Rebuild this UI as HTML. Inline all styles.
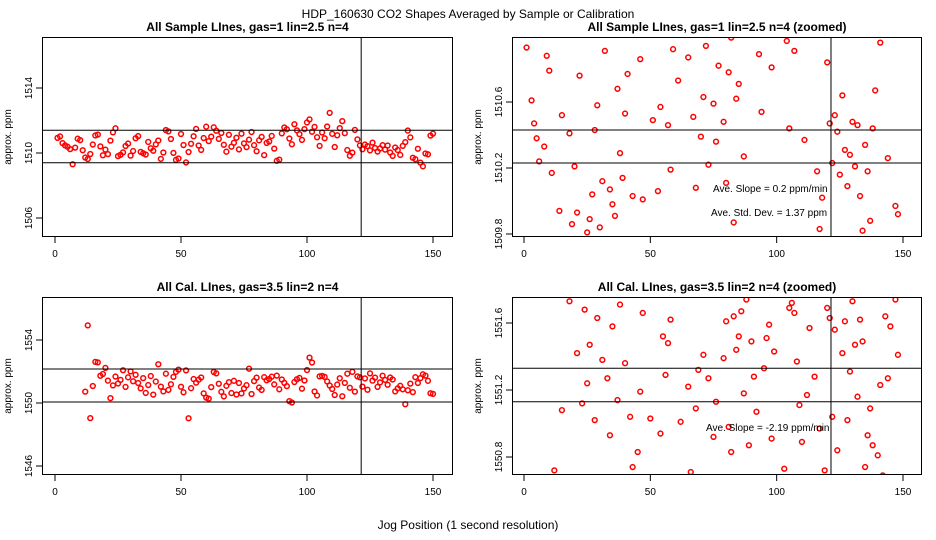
<!DOCTYPE html>
<html><head><meta charset="utf-8"><style>
html,body{margin:0;padding:0;background:#fff;width:936px;height:540px;overflow:hidden}
svg{display:block;font-family:"Liberation Sans",sans-serif}
</style></head><body>
<svg id="c" width="936" height="540" viewBox="0 0 936 540">
<text x="468" y="18" text-anchor="middle" font-size="12">HDP_160630  CO2 Shapes Averaged by Sample or Calibration</text>
<text x="468" y="529" text-anchor="middle" font-size="12">Jog Position (1 second resolution)</text>
</svg>
<script>
const sampleValues=[1510.93,1511.02,1510.61,1510.47,1510.38,1510.24,1509.31,1510.33,1510.88,1510.79,
1510.17,1509.72,1509.63,1509.94,1510.52,1511.08,1511.13,1510.41,1509.86,1510.21,
1509.93,1510.76,1511.27,1511.52,1509.81,1509.89,1510.04,1510.43,1510.58,1509.84,
1510.12,1510.91,1511.04,1510.07,1509.98,1509.91,1510.68,1510.29,1510.14,1510.53,
1510.77,1509.64,1510.03,1511.41,1511.33,1510.86,1510.01,1509.58,1509.66,1511.17,
1510.49,1509.42,1510.06,1510.57,1511.03,1511.48,1510.46,1510.19,1510.92,1511.62,
1510.73,1511.01,1511.58,1511.37,1510.87,1511.23,1510.51,1510.08,1511.12,1510.39,
1510.63,1510.94,1510.22,1511.19,1510.59,1510.36,1510.82,1511.29,1510.48,1510.11,
1510.78,1510.99,1509.87,1510.62,1510.71,1511.05,1510.27,1509.52,1509.59,1511.21,
1511.57,1511.46,1510.89,1510.54,1511.77,1511.39,1511.16,1510.81,1511.47,1511.88,
1512.07,1511.31,1511.61,1510.97,1510.44,1511.26,1510.91,1511.63,1512.47,1511.18,
1510.37,1511.09,1511.53,1511.96,1511.22,1510.18,1509.83,1510.02,1511.42,1510.84,
1510.47,1510.23,1510.52,1510.42,1510.16,1510.64,1510.31,1510.09,1510.28,1510.48,
1510.21,1510.46,1510.03,1509.82,1510.34,1510.18,1509.88,1510.44,1510.67,1511.38,
1510.96,1509.71,1509.62,1510.26,1509.41,1509.18,1509.97,1509.92,1511.07,1511.19];
const calValues=[null,null,null,null,null,null,null,null,null,null,null,
1550.72,1554.93,1549.04,1551.08,1552.61,1552.58,1551.73,1551.84,1552.23,
1551.42,1550.31,1551.12,1551.68,1551.24,1551.47,1552.08,1551.02,1551.63,1552.01,
1551.38,1551.79,1551.27,1550.93,1551.58,1550.64,1551.14,1551.71,1550.53,1551.36,
1552.46,1551.04,1550.74,1551.86,1550.83,1551.19,1551.66,1551.98,1552.12,1551.03,
1550.68,1552.07,1549.03,1550.94,1551.52,1551.29,1551.48,1551.62,1550.61,1550.34,
1550.28,1551.01,1551.97,1551.88,1551.22,1550.71,1550.42,1551.09,1551.32,1550.63,
1551.41,1550.54,1551.27,1550.61,1550.92,1551.13,1552.18,1550.57,1551.39,1551.61,
1550.98,1550.83,1551.64,1551.44,1551.52,1551.67,1551.18,1551.74,1550.87,1551.49,
1551.28,1551.07,1550.12,1550.03,1551.33,1551.51,1551.59,1550.91,1551.43,1552.09,
1552.88,1552.57,1550.73,1550.48,1551.69,1551.72,1551.66,1551.37,1551.11,1550.89,
1550.51,1551.17,1551.57,1550.43,1551.28,1551.86,1550.97,1551.98,1550.72,1551.69,
1551.63,1551.04,1551.56,1550.84,1551.88,1551.42,1551.61,1551.02,1551.31,1551.73,
1551.47,1551.16,1551.62,1551.49,1550.74,1550.93,1551.09,1550.87,1549.92,1550.81,
1551.23,1550.69,1551.64,1551.27,1551.58,1551.82,1551.74,1551.41,1550.62,1550.58];
const xTicks=[0,50,100,150];
const sampleTicksFull=[1506,1510,1514];
const sampleTicksZoom=[1509.8,1510.2,1510.6];
const calTicksFull=[1546,1550,1554];
const calTicksZoom=[1550.8,1551.2,1551.6];
const sampleHLinesFull=[1511.4,1509.4];
const sampleHLinesZoom=[1510.43,1510.23];
const calHLinesFull=[1552.16,1550.06];
const calHLinesZoom=[1551.33,1551.13];
const vLine=[121.5];

const svg=document.getElementById('c');
const NS='http://www.w3.org/2000/svg';
function mk(t,a,p){const e=document.createElementNS(NS,t);for(const k in a)e.setAttribute(k,a[k]);(p||svg).appendChild(e);return e;}

const panels=[
 {title:'All Sample LInes, gas=1 lin=2.5 n=4',L:42,R:453,T:37,B:237,x0:55,x1:433,yv:[1510,1514],yp:[153,88],ticks:sampleTicksFull,h:sampleHLinesFull,data:sampleValues,notes:[]},
 {title:'All Sample LInes, gas=1 lin=2.5 n=4 (zoomed)',L:512,R:922,T:37,B:237,x0:524,x1:903,yv:[1510.2,1510.6],yp:[168,102],ticks:sampleTicksZoom,h:sampleHLinesZoom,data:sampleValues,notes:[['Ave. Slope =  0.2  ppm/min',713,192],['Ave. Std. Dev. =  1.37  ppm',711,216]]},
 {title:'All Cal. LInes, gas=3.5 lin=2 n=4',L:42,R:453,T:297,B:475,x0:55,x1:433,yv:[1550,1554],yp:[403,340],ticks:calTicksFull,h:calHLinesFull,data:calValues,notes:[]},
 {title:'All Cal. LInes, gas=3.5 lin=2 n=4 (zoomed)',L:512,R:922,T:297,B:475,x0:524,x1:903,yv:[1551.2,1551.6],yp:[390,323],ticks:calTicksZoom,h:calHLinesZoom,data:calValues,notes:[['Ave. Slope =  -2.19  ppm/min',706,431]]}
];
panels.forEach((p,i)=>{
 const g=mk('g',{});
 
 
 const xs=v=>p.x0+v*(p.x1-p.x0)/150;
 const ys=v=>p.yp[0]+(v-p.yv[0])*(p.yp[1]-p.yp[0])/(p.yv[1]-p.yv[0]);
 const t=mk('text',{x:(p.L+p.R)/2,y:p.T-6,'text-anchor':'middle','font-size':12,'font-weight':'bold'},g);
 t.textContent=p.title;
 
 
 const cp=mk('clipPath',{id:'clip'+i},g);mk('rect',{x:p.L,y:p.T,width:p.R-p.L,height:p.B-p.T},cp);
 const pts=mk('g',{'clip-path':'url(#clip'+i+')'},g);
 p.data.forEach((v,k)=>{if(v==null)return;
  const c=mk('circle',{cx:xs(k+1),cy:ys(v),r:2.4,fill:'none',stroke:'#f00','stroke-width':1.5},pts);
  
  });
 p.h.forEach(v=>{const l=mk('line',{x1:p.L,x2:p.R,y1:ys(v),y2:ys(v),stroke:'#000','stroke-width':1},g);
  
  });
 vLine.forEach(v=>{const l=mk('line',{x1:xs(v),x2:xs(v),y1:p.T,y2:p.B,stroke:'#000','stroke-width':1},g);
  
  });
 const box=mk('rect',{x:p.L+.5,y:p.T+.5,width:p.R-p.L-1,height:p.B-p.T-1,fill:'none',stroke:'#000'},g);
 
 
 xTicks.forEach(v=>{const x=xs(v);mk('line',{x1:x,x2:x,y1:p.B,y2:p.B+6,stroke:'#000'},g);
  const tt=mk('text',{x:x,y:p.B+20,'text-anchor':'middle','font-size':10},g);tt.textContent=v;
  
  });
 p.ticks.forEach(v=>{const y=ys(v);mk('line',{x1:p.L-6,x2:p.L,y1:y,y2:y,stroke:'#000'},g);
  const tt=mk('text',{x:p.L-10,y:y,'text-anchor':'middle','font-size':10,transform:`rotate(-90 ${p.L-10} ${y})`},g);tt.textContent=(v%1===0?v:v.toFixed(1));
  
  });
 const yl=mk('text',{x:p.L-31,y:(p.T+p.B)/2,'text-anchor':'middle','font-size':10,transform:`rotate(-90 ${p.L-31} ${(p.T+p.B)/2})`},g);
 yl.textContent='approx. ppm';
 
 
 p.notes.forEach(n=>{const tt=mk('text',{x:n[1],y:n[2],'font-size':10},g);tt.textContent=n[0];
  
  });
});
</script>
</body></html>
